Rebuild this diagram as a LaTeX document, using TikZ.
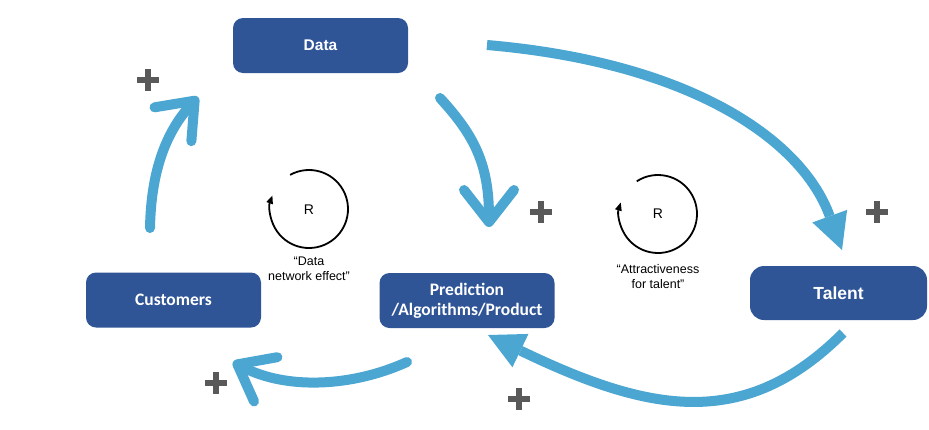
\documentclass[tikz,border=0pt]{standalone}
\usepackage{fontspec}
\setmainfont{Liberation Sans}
\newfontfamily\calibri{Carlito}
\usetikzlibrary{arrows.meta}
\definecolor{boxblue}{RGB}{47,85,151}
\definecolor{flowblue}{RGB}{75,166,210}
\definecolor{plusgray}{RGB}{89,89,89}
\tikzset{
  box/.style={fill=boxblue, rounded corners=10pt, minimum width=175pt, minimum height=55pt,
    text=white, inner sep=0pt, align=center},
  calbox/.style={box, font=\calibri\bfseries\fontsize{17.5}{20}\selectfont},
  arbox/.style={box, font=\bfseries\fontsize{15.5}{18}\selectfont},
  flow/.style={draw=flowblue, line width=10pt},
  chev/.style={flow, line cap=round, -{Straight Barb[length=32pt,width=50pt,round]}},
  tri/.style={flow, -{Triangle[length=36pt,width=37pt,line width=0pt]}},
  loopline/.style={draw=black, line width=1.8pt, -{Triangle[length=8pt,width=7pt,line width=0pt]}},
  lbl/.style={align=center, font=\fontsize{12.5}{15}\selectfont, inner sep=0pt},
  rlbl/.style={font=\fontsize{14}{16}\selectfont, inner sep=0pt},
  plusmark/.pic={\fill[plusgray] (-11,-3.2) rectangle (11,3.2); \fill[plusgray] (-3.2,-11) rectangle (3.2,11);}
}
\begin{document}
\begin{tikzpicture}[x=1pt,y=-1pt]
\useasboundingbox (0,0) rectangle (929,429);
% boxes
\node[arbox] (data) at (320.5,45.5) {Data};
\node[calbox] (cust) at (173.5,300) {Customers};
\node[calbox] (pred) at (467,300.5) {Prediction\\/Algorithms/Product};
\node[arbox, font=\bfseries\fontsize{17.5}{20}\selectfont, minimum width=177pt, minimum height=54pt, rounded corners=14pt] (tal) at (838.5,293) {Talent};
% connector ends
\coordinate (c2d-s) at (150,228);
\coordinate (c2d-e) at (198,97);
\coordinate (d2p-s) at (440,98);
\coordinate (d2p-e) at (489,227);
\coordinate (d2t-s) at (487,45);
\coordinate (d2t-e) at (842,250);
\coordinate (t2p-s) at (843,333);
\coordinate (t2p-e) at (488,335);
\coordinate (p2c-s) at (407,362);
\coordinate (p2c-e) at (233,362);
% connectors
\draw[chev] (c2d-s) .. controls (151,175) and (164,134) .. (c2d-e);
\draw[chev] (d2p-s) .. controls (475,136) and (489,165) .. (d2p-e);
\draw[tri] (d2t-s) .. controls (686,62) and (801,137) .. (d2t-e);
\draw[tri] (t2p-s) .. controls (744,432) and (648,412) .. (t2p-e);
\draw[chev] (p2c-s) .. controls (352,387) and (286,390) .. (p2c-e);
% reinforcing loops
\coordinate (loop1) at (309,209);
\coordinate (loop2) at (658,214);
\draw[loopline] ([shift={(-119:39)}]loop1) arc[start angle=-119, end angle=200, radius=39];
\draw[loopline] ([shift={(-123:39)}]loop2) arc[start angle=-123, end angle=197, radius=39];
\node[rlbl] (r1) at (309,210) {R};
\node[rlbl] (r2) at (658,214) {R};
\node[lbl] (l1) at (309,268.5) {“Data\\network effect”};
\node[lbl] (l2) at (658,277) {“Attractiveness\\for talent”};
% plus signs
\pic at (148,80) {plusmark};
\pic at (541,212) {plusmark};
\pic at (877,212) {plusmark};
\pic at (216,383) {plusmark};
\pic at (519,399) {plusmark};
\end{tikzpicture}
\end{document}
